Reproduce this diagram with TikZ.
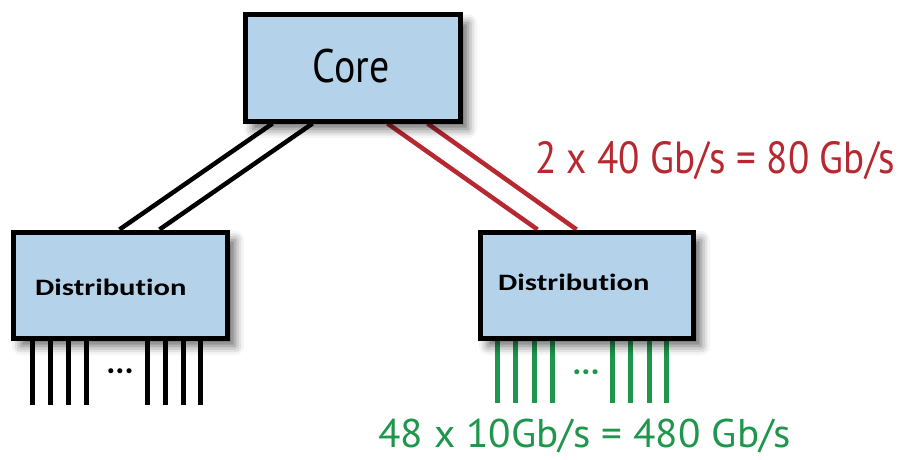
\documentclass[tikz,border=0pt]{standalone}
\usepackage{fontspec}
\usetikzlibrary{calc,shadows.blur}
\setmainfont{Carlito}
\newfontfamily\distfont[FakeStretch=1.30,Ligatures=NoCommon]{Carlito}
\newfontfamily\corefont[FakeStretch=0.85]{PT Sans}
\newfontfamily\redfont[FakeStretch=0.87]{PT Sans}
\newfontfamily\greenfont[FakeStretch=1.03]{PT Sans}
\definecolor{boxblue}{RGB}{180,211,234}
\definecolor{linkred}{RGB}{183,40,48}
\definecolor{linkgreen}{RGB}{30,150,76}
\pgfdeclarelayer{background}
\pgfsetlayers{background,main}
\tikzset{
  x=1pt, y=-1pt,
  switchbox/.style={draw=black, line width=5pt, fill=boxblue, inner sep=0pt,
    blur shadow={shadow xshift=8pt, shadow yshift=-8pt, shadow blur radius=9pt, shadow opacity=60}},
  uplink/.style={line width=4.5pt},
  port/.style={line width=5.5pt},
  distlabel/.style={font=\distfont\bfseries\fontsize{23.5}{26}\selectfont, anchor=base west, inner sep=0pt},
  dotlabel/.style={font=\bfseries\fontsize{34}{36}\selectfont, anchor=base, inner sep=0pt},
}
\begin{document}
\begin{tikzpicture}
\useasboundingbox (0,0) rectangle (919,460);
\node[switchbox, minimum width=215pt, minimum height=106pt] (core) at (352.5,68) {};
\node[switchbox, minimum width=214pt, minimum height=106pt] (ld) at (120,285) {};
\node[switchbox, minimum width=213pt, minimum height=106pt] (rd) at (586.5,285) {};
\node[font=\corefont\fontsize{47}{50}\selectfont, anchor=base, inner sep=0pt] (coretext) at (351,82) {Core};
\node[distlabel] (ldtext) at (35,295) {Distribution};
\node[distlabel] (rdtext) at (498,290) {Distribution};
\begin{pgfonlayer}{background}
  \draw[uplink] ($(core.south west)+(30,0)$) -- ($(ld.north west)+(109,0)$);
  \draw[uplink] ($(core.south west)+(70,0)$) -- ($(ld.north west)+(149,0)$);
  \draw[uplink, linkred] ($(core.south west)+(145,0)$) -- ($(rd.north west)+(60,0)$);
  \draw[uplink, linkred] ($(core.south west)+(185,0)$) -- ($(rd.north west)+(99,0)$);
  \foreach \dx in {22,40,58,76,137,155,173,190}
    \draw[port] ($(ld.south west)+(\dx,0)$) -- ++(0,64);
  \foreach \dx in {20,38,57,75,135,153,172,189}
    \draw[port, linkgreen] ($(rd.south west)+(\dx,0)$) -- ++(0,62);
\end{pgfonlayer}
\node[dotlabel] (ldots) at (120,373) {...};
\node[dotlabel, text=linkgreen] (rdots) at (586,374) {...};
\node[font=\redfont\fontsize{45}{48}\selectfont, text=linkred, anchor=base west, inner sep=0pt] (redlabel) at (535,173) {2 x 40 Gb/s = 80 Gb/s};
\node[font=\greenfont\fontsize{40}{42}\selectfont, text=linkgreen, anchor=base west, inner sep=0pt] (greenlabel) at (378,447) {48 x 10Gb/s = 480 Gb/s};
\end{tikzpicture}
\end{document}
